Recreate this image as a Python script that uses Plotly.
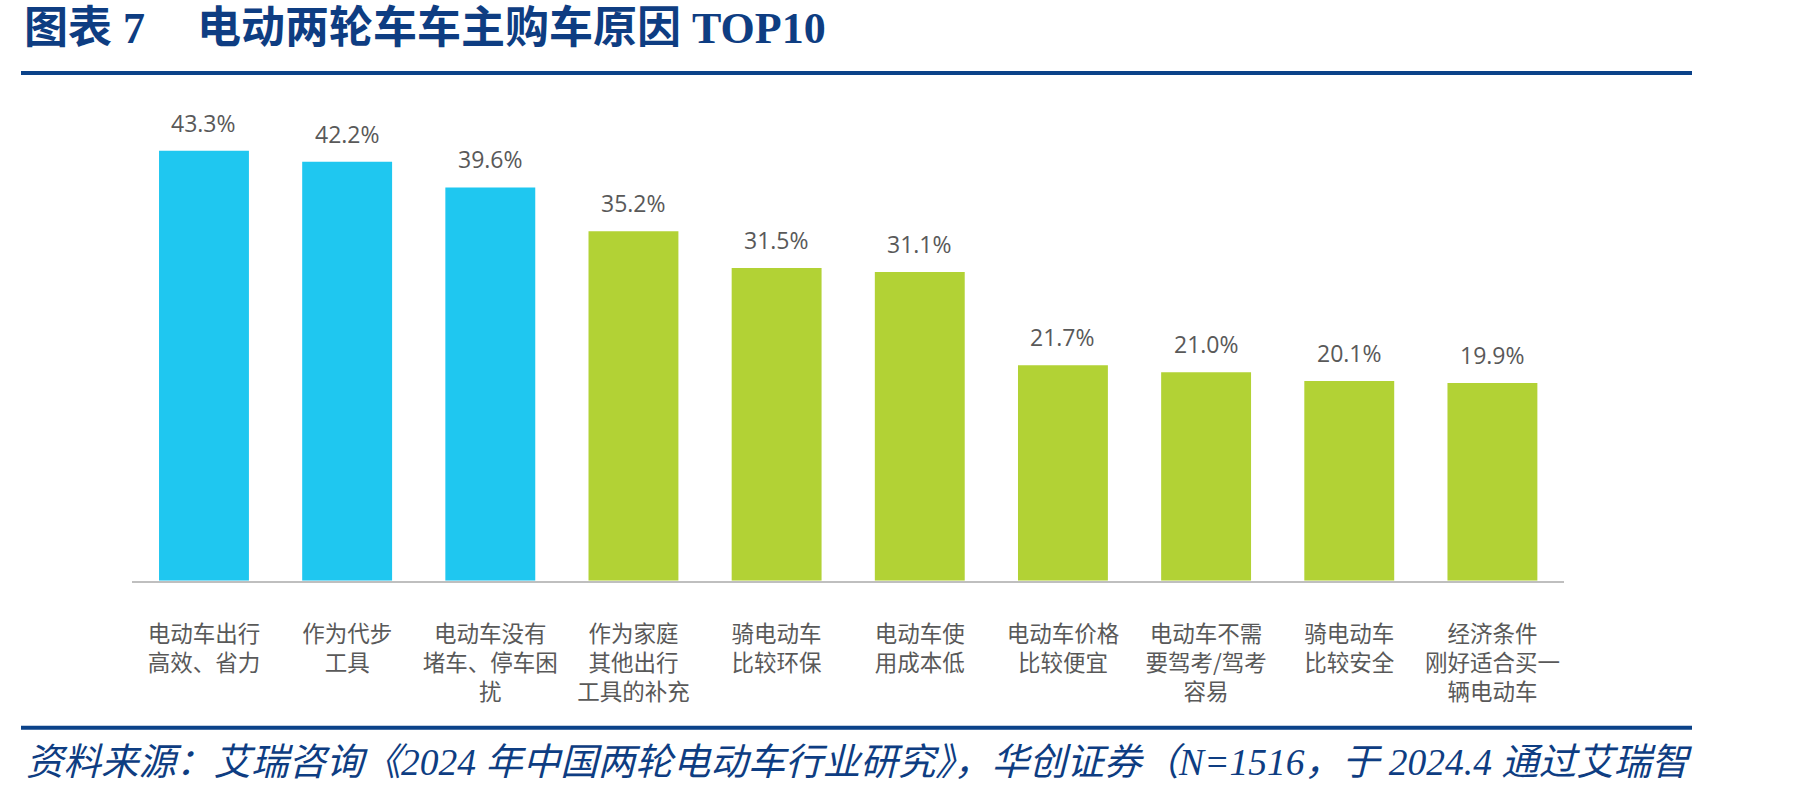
import plotly.graph_objects as go

# ---- data ----
categories = [
    "电动车出行<br>高效、省力",
    "作为代步<br>工具",
    "电动车没有<br>堵车、停车困<br>扰",
    "作为家庭<br>其他出行<br>工具的补充",
    "骑电动车<br>比较环保",
    "电动车使<br>用成本低",
    "电动车价格<br>比较便宜",
    "电动车不需<br>要驾考/驾考<br>容易",
    "骑电动车<br>比较安全",
    "经济条件<br>刚好适合买一<br>辆电动车",
]
values = [43.3, 42.2, 39.6, 35.2, 31.5, 31.1, 21.7, 21.0, 20.1, 19.9]
highlighted = [True, True, True, False, False, False, False, False, False, False]

title_prefix = "图表 7"
title_main = "电动两轮车车主购车原因 TOP10"
source_text = "资料来源：艾瑞咨询《2024 年中国两轮电动车行业研究》，华创证券（N=1516，于 2024.4 通过艾瑞智"

# ---- style ----
W, H = 1801, 796
BLUE = "#1FC7F0"
GREEN = "#B2D235"
NAVY = "#0E3D82"
GRAY = "#595959"

bar_colors = [BLUE if h else GREEN for h in highlighted]

fig = go.Figure()
fig.add_trace(go.Bar(
    x=list(range(len(categories))),
    y=values,
    marker=dict(color=bar_colors, line=dict(width=0)),
    hoverinfo="skip",
))

# value labels above bars
for i, v in enumerate(values):
    fig.add_annotation(
        x=i, y=v, xref="x", yref="y",
        text=f"{v:.1f}%",
        showarrow=False, yanchor="bottom", yshift=10,
        font=dict(family="Open Sans, Noto Sans", size=23, color=GRAY),
    )

def px_x(p):
    return p / W

def px_y(p):
    return 1 - p / H

x_left, x_right = 132.4, 1564.0
y_top, y_bottom = 84.2, 580.7

fig.update_layout(
    width=W, height=H,
    margin=dict(l=0, r=0, t=0, b=0),
    paper_bgcolor="white", plot_bgcolor="white",
    showlegend=False,
    bargap=0.372,
    xaxis=dict(
        domain=[px_x(x_left), px_x(x_right)],
        range=[-0.5, len(categories) - 0.5],
        tickmode="array",
        tickvals=list(range(len(categories))),
        ticktext=categories,
        tickfont=dict(family="Noto Sans CJK SC", size=22.5, color=GRAY),
        showline=True, linecolor="#BFBFBF", linewidth=2,
        showgrid=False, zeroline=False, ticks="",
        ticklabelstandoff=32,
    ),
    yaxis=dict(
        domain=[px_y(y_bottom), px_y(y_top)],
        range=[0, 50],
        visible=False, showgrid=False, zeroline=False,
    ),
)

# title
fig.add_annotation(
    xref="paper", yref="paper", x=px_x(22), y=px_y(28),
    xanchor="left", yanchor="middle", showarrow=False,
    text=f"<b>{title_prefix}</b>",
    font=dict(family="Liberation Serif, Noto Sans CJK SC", size=44, color=NAVY),
)
fig.add_annotation(
    xref="paper", yref="paper", x=px_x(195), y=px_y(28),
    xanchor="left", yanchor="middle", showarrow=False,
    text=f"<b>{title_main}</b>",
    font=dict(family="Liberation Serif, Noto Sans CJK SC", size=44, color=NAVY),
)

# source
fig.add_annotation(
    xref="paper", yref="paper", x=px_x(24), y=px_y(762),
    xanchor="left", yanchor="middle", showarrow=False,
    text=source_text,
    font=dict(family="Liberation Serif, Noto Sans CJK SC", size=37.5, color=NAVY, style="italic"),
)

# rules
for yy in (73, 727.7):
    fig.add_shape(
        type="line", xref="paper", yref="paper",
        x0=px_x(21), x1=px_x(1692), y0=px_y(yy), y1=px_y(yy),
        line=dict(color="#0B4289", width=4),
    )

fig.write_html("out.html")
